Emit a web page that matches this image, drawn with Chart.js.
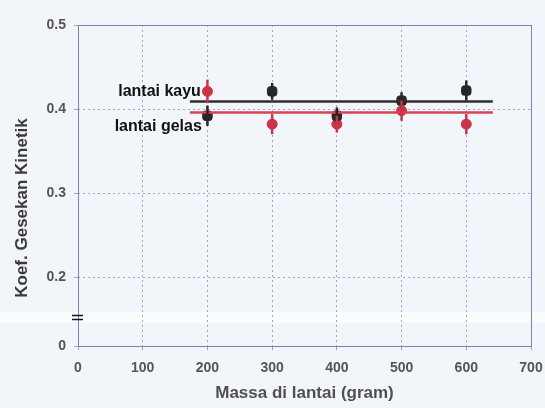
<!DOCTYPE html>
<html>
<head>
<meta charset="utf-8">
<script src="https://cdn.jsdelivr.net/npm/chart.js@4"></script>
<style>
  html, body { margin: 0; padding: 0; background: #f2f5f9; }
  #wrap { width: 545px; height: 408px; }
</style>
</head>
<body>
<div id="wrap"><canvas id="myChart" width="545" height="408"></canvas></div>
<script>
// massa (gram)
var massa = [200, 300, 400, 500, 600];
// lantai kayu (hitam)
var kayu = [0.392, 0.421, 0.392, 0.41, 0.422];
var kayuErr = [0.012, 0.01, 0.01, 0.01, 0.012];
// lantai gelas (merah)
var gelas = [0.421, 0.382, 0.382, 0.398, 0.382];
var gelasErr = [0.014, 0.012, 0.01, 0.012, 0.012];
// garis rata-rata
var garisX = [173, 641];
var kayuRata = 0.409;
var gelasRata = 0.396;
// sumbu
var xTicks = [0, 100, 200, 300, 400, 500, 600, 700];
var yTicks = [0.118, 0.2, 0.3, 0.4, 0.5]; // 0.118 = patahan sumbu, ditulis "0"

var hitam = '#262626';
var merah = '#c8354a';

function pts(xs, ys) {
  return xs.map(function (x, i) { return { x: x, y: ys[i] }; });
}

var errorBars = {
  id: 'errorBars',
  beforeDraw: function (chart) {
    var c = chart.ctx;
    c.save();
    c.fillStyle = '#f2f5f9';
    c.fillRect(0, 0, chart.width, chart.height);
    // pita putih hasil scan
    var yb = chart.scales.y.getPixelForValue(0.152);
    c.fillStyle = '#fbfcfe';
    c.fillRect(0, yb - 5, chart.width, 10);
    c.restore();
  },
  afterDatasetsDraw: function (chart) {
    var c = chart.ctx, xs = chart.scales.x, ys = chart.scales.y;
    function bars(vals, errs, col) {
      c.strokeStyle = col;
      c.lineWidth = 2.5;
      vals.forEach(function (v, i) {
        var px = xs.getPixelForValue(massa[i]);
        c.beginPath();
        c.moveTo(px, ys.getPixelForValue(v - errs[i]));
        c.lineTo(px, ys.getPixelForValue(v + errs[i]));
        c.stroke();
      });
    }
    c.save();
    bars(kayu, kayuErr, hitam);
    bars(gelas, gelasErr, merah);
    c.restore();
  },
  afterDraw: function (chart) {
    var c = chart.ctx, xs = chart.scales.x, ys = chart.scales.y, a = chart.chartArea;
    c.save();
    // kotak plot
    c.strokeStyle = '#7a82b0';
    c.lineWidth = 1;
    c.strokeRect(a.left + 0.5, a.top + 0.5, a.right - a.left, a.bottom - a.top);
    // tanda patahan
    var yb = ys.getPixelForValue(0.152);
    c.strokeStyle = '#111';
    c.lineWidth = 1.5;
    c.beginPath();
    c.moveTo(a.left - 6, yb - 2); c.lineTo(a.left + 5, yb - 2);
    c.moveTo(a.left - 6, yb + 2); c.lineTo(a.left + 5, yb + 2);
    c.stroke();
    // label
    c.fillStyle = '#111';
    c.font = 'bold 16px "Liberation Sans", Arial, sans-serif';
    c.textAlign = 'center';
    c.textBaseline = 'middle';
    c.fillText('lantai kayu', xs.getPixelForValue(126), ys.getPixelForValue(0.421));
    c.fillText('lantai gelas', xs.getPixelForValue(124), ys.getPixelForValue(0.379));
    // judul sumbu y
    c.fillStyle = '#3a3a3a';
    c.font = 'bold 17px "Liberation Sans", Arial, sans-serif';
    c.translate(22, 208);
    c.rotate(-Math.PI / 2);
    c.fillText('Koef. Gesekan Kinetik', 0, 0);
    c.restore();
  }
};

var ctx = document.getElementById('myChart').getContext('2d');
var myChart = new Chart(ctx, {
  type: 'scatter',
  data: {
    datasets: [
      {
        label: 'kayu rata',
        data: pts(garisX, [kayuRata, kayuRata]),
        showLine: true,
        borderColor: '#2e2e2e',
        borderWidth: 2.5,
        pointRadius: 0
      },
      {
        label: 'gelas rata',
        data: pts(garisX, [gelasRata, gelasRata]),
        showLine: true,
        borderColor: '#d6454f',
        borderWidth: 2.5,
        pointRadius: 0
      },
      {
        label: 'lantai kayu',
        data: pts(massa, kayu),
        pointStyle: 'rectRounded',
        pointRadius: 5.5,
        backgroundColor: hitam,
        borderColor: hitam,
        borderWidth: 1
      },
      {
        label: 'lantai gelas',
        data: pts(massa, gelas),
        pointStyle: 'circle',
        pointRadius: 5,
        backgroundColor: merah,
        borderColor: merah,
        borderWidth: 1
      }
    ]
  },
  options: {
    animation: false,
    responsive: false,
    layout: { padding: { top: 25, right: 14, left: 0, bottom: 0 } },
    plugins: { legend: { display: false }, tooltip: { enabled: false } },
    scales: {
      x: {
        type: 'linear',
        min: 0,
        max: 700,
        afterBuildTicks: function (s) { s.ticks = xTicks.map(function (v) { return { value: v }; }); },
        afterFit: function (s) { s.height = 62; s.paddingRight = 0; s.paddingLeft = 0; },
        border: { display: false, dash: [2, 3] },
        grid: { color: '#a0a6c8', lineWidth: 1, tickLength: 4 },
        ticks: {
          color: '#555555',
          padding: 10,
          font: { family: '"Liberation Sans", Arial, sans-serif', size: 14, weight: 'bold' }
        },
        title: {
          display: true,
          text: 'Massa di lantai (gram)',
          color: '#505050',
          padding: { top: 2 },
          font: { family: '"Liberation Sans", Arial, sans-serif', size: 17, weight: 'bold' }
        }
      },
      y: {
        type: 'linear',
        min: 0.118,
        max: 0.5,
        afterBuildTicks: function (s) { s.ticks = yTicks.map(function (v) { return { value: v }; }); },
        afterFit: function (s) { s.width = 78; s.paddingTop = 0; s.paddingBottom = 0; },
        border: { display: false, dash: [2, 3] },
        grid: { color: '#a0a6c8', lineWidth: 1, tickLength: 4 },
        ticks: {
          color: '#555555',
          padding: 8,
          font: { family: '"Liberation Sans", Arial, sans-serif', size: 14, weight: 'bold' },
          callback: function (v) { return v < 0.15 ? '0' : v.toFixed(1); }
        }
      }
    }
  },
  plugins: [errorBars]
});
</script>
</body>
</html>
